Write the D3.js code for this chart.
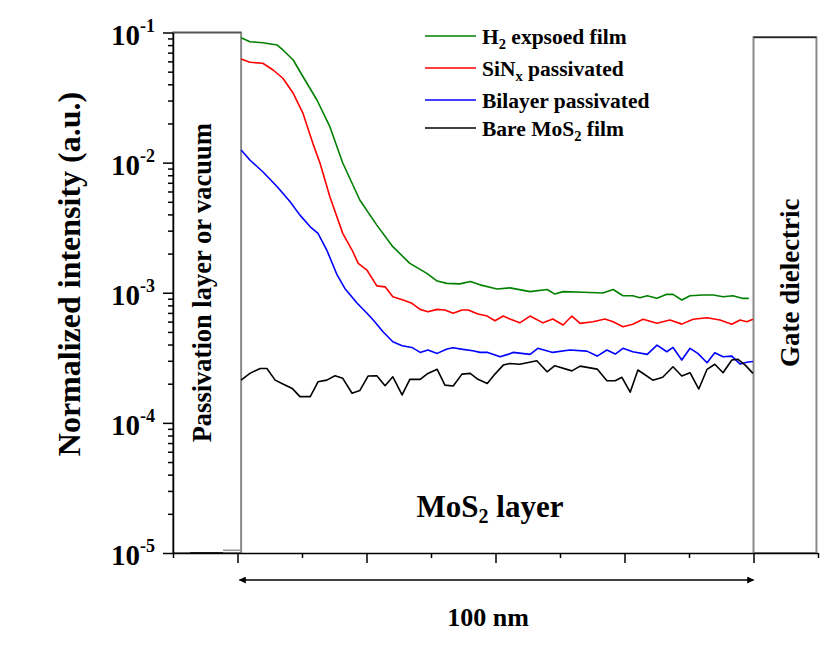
<!DOCTYPE html>
<html>
<head>
<meta charset="utf-8">
<script src="https://cdn.jsdelivr.net/npm/d3@7"></script>
<style>
  body { margin: 0; background: #fff; }
  svg { font-family: "Liberation Serif", "Times New Roman", serif; font-weight: bold; }
  .axis path, .axis line { stroke: #000; stroke-width: 1.5; }
  .series { fill: none; stroke-width: 1.6; stroke-linejoin: round; }
</style>
</head>
<body>
<div id="vis"></div>
<script>
// SIMS-like depth profile: normalized intensity vs depth (nm)

// depth (nm), normalized intensity
var h2Film = [
  [0.7,0.0912],[2.4,0.0850],[4.9,0.0835],[7.7,0.0801],[8.8,0.0734],[10.8,0.0615],[12.7,0.0457],
  [15.4,0.0303],[17.9,0.0189],[20.4,0.00993],[23.7,0.00516],[27.0,0.00331],[30.1,0.00226],
  [33.4,0.00168],[36.7,0.00141],[38.7,0.00123],[40.6,0.00118],[43.1,0.00117],[45.1,0.00122],
  [47.0,0.00115],[50.3,0.00107],[52.8,0.00109],[56.7,0.00102],[60.0,0.00106],[61.5,0.000977],
  [63.1,0.00102],[67.0,0.00101],[70.8,0.000995],[72.8,0.00106],[74.7,0.000948],[76.6,0.000948],
  [78.0,0.000916],[79.4,0.000948],[81.3,0.000906],[83.2,0.000972],[84.4,0.000972],[86.1,0.000879],
  [87.7,0.000948],[90.2,0.000960],[92.2,0.000960],[94.1,0.000931],[96.0,0.000948],[97.8,0.000906],
  [99.1,0.000906]
];
var sinxFilm = [
  [0.7,0.0626],[2.4,0.0590],[4.9,0.0580],[6.9,0.0515],[8.8,0.0445],[10.8,0.0341],[12.7,0.0239],
  [14.6,0.01406],[16.0,0.00988],[17.9,0.00547],[20.4,0.00286],[22.2,0.00213],[23.4,0.00168],
  [25.1,0.00149],[27.0,0.00113],[28.6,0.00111],[30.1,0.000931],[32.1,0.000879],[33.8,0.000830],
  [35.4,0.000745],[36.9,0.000714],[38.7,0.000745],[40.2,0.000736],[41.8,0.000695],[43.5,0.000736],
  [44.7,0.000736],[46.6,0.000686],[48.4,0.000662],[49.9,0.000609],[51.5,0.000662],[52.8,0.000628],
  [54.7,0.000587],[56.7,0.000662],[59.2,0.000587],[61.1,0.000628],[63.1,0.000565],[64.8,0.000662],
  [66.4,0.000582],[68.9,0.000598],[71.2,0.000628],[72.8,0.000598],[74.7,0.000548],[76.6,0.000572],
  [78.6,0.000625],[81.3,0.000582],[83.8,0.000617],[86.1,0.000574],[88.3,0.000625],[91.0,0.000643],
  [93.5,0.000617],[95.8,0.000572],[97.4,0.000617],[98.7,0.000598],[99.9,0.000625]
];
var bilayerFilm = [
  [0.7,0.0125],[2.4,0.01047],[4.9,0.00851],[7.7,0.00653],[10.2,0.00500],[12.1,0.00395],[14.1,0.00321],
  [15.6,0.00286],[17.3,0.00213],[19.3,0.00137],[20.8,0.00108],[23.2,0.000830],[25.1,0.000695],
  [26.6,0.000598],[28.2,0.000501],[30.1,0.000420],[31.9,0.000392],[33.8,0.000380],[35.4,0.000348],
  [36.9,0.000363],[38.7,0.000342],[40.6,0.000369],[41.8,0.000378],[43.7,0.000367],[45.6,0.000358],
  [47.0,0.000348],[48.5,0.000348],[50.9,0.000322],[52.4,0.000336],[53.4,0.000348],[56.7,0.000336],
  [58.2,0.000374],[61.1,0.000348],[64.4,0.000363],[67.7,0.000356],[69.7,0.000326],[71.6,0.000363],
  [73.2,0.000338],[74.7,0.000374],[76.6,0.000352],[79.4,0.000336],[81.3,0.000396],[83.2,0.000352],
  [84.4,0.000380],[86.1,0.000304],[87.7,0.000374],[89.2,0.000342],[91.0,0.000290],[92.5,0.000346],
  [94.1,0.000322],[95.8,0.000326],[97.4,0.000283],[98.7,0.000292],[99.9,0.000296]
];
var bareFilm = [
  [0.7,0.000213],[2.4,0.000240],[4.4,0.000262],[5.7,0.000262],[7.3,0.000213],[8.8,0.000199],
  [10.6,0.000184],[12.1,0.000159],[14.1,0.000159],[15.6,0.000207],[17.3,0.000213],[18.9,0.000230],
  [20.4,0.000220],[22.2,0.000169],[23.7,0.000177],[25.3,0.000229],[27.0,0.000230],[28.6,0.000193],
  [30.1,0.000226],[31.9,0.000164],[33.4,0.000216],[35.4,0.000216],[36.9,0.000240],[38.7,0.000258],
  [40.2,0.000195],[41.8,0.000192],[43.5,0.000237],[45.1,0.000240],[46.6,0.000216],[48.4,0.000201],
  [49.9,0.000237],[51.5,0.000278],[52.8,0.000286],[54.7,0.000282],[58.0,0.000300],[60.0,0.000247],
  [61.5,0.000275],[64.8,0.000251],[66.4,0.000273],[69.7,0.000259],[71.6,0.000211],[73.2,0.000211],
  [74.5,0.000224],[76.1,0.000172],[77.6,0.000255],[80.5,0.000213],[82.4,0.000224],[84.4,0.000270],
  [86.1,0.000229],[87.7,0.000243],[89.4,0.000182],[91.0,0.000258],[92.5,0.000282],[94.1,0.000243],
  [95.8,0.000304],[97.0,0.000308],[98.4,0.000278],[99.9,0.000240]
];
// bits of the profile sitting on the 1e-5 floor inside the left box
var floorBlack = [[-9.2,1e-5],[-2.8,1e-5]];
var floorGray  = [[-2.8,1.05e-5],[0.7,1.05e-5]];

var seriesNames  = ['h2', 'sinx', 'bilayer', 'bare'];
var seriesColors = ['#008000', '#ff0000', '#0000ff', '#000000'];
// legend labels: [text, isSubscript]
var seriesLabels = [
  [['H', 0], ['2', 1], [' expsoed film', 0]],
  [['SiN', 0], ['x', 1], [' passivated', 0]],
  [['Bilayer passivated', 0]],
  [['Bare MoS', 0], ['2', 1], [' film', 0]]
];

// y ticks
var decades = [1e-1, 1e-2, 1e-3, 1e-4, 1e-5];
var decadeExp = ['-1', '-2', '-3', '-4', '-5'];
// x ticks (nm)
var xMajor = [0, 25, 50, 75, 100];
var xMinor = [-12.5, 12.5, 37.5, 62.5, 87.5, 112.5];

// boxed regions either side of the film (nm, top value)
var regions = [
  { x0: -12.5, x1: 0.7,   top: 0.1,    label: 'Passivation layer or vacuum' },
  { x0: 100,   x1: 112.2, top: 0.0918, label: 'Gate dielectric' }
];

var margin = { top: 32.5, left: 173 };
var width = 645, height = 520.5;

var svg = d3.select('#vis').append('svg')
  .attr('width', 827).attr('height', 671);

var vis = svg.append('g')
  .attr('transform', `translate(${margin.left},${margin.top})`);

var xScale = d3.scaleLinear().domain([-12.5, 112.5]).range([0, width]);
var yScale = d3.scaleLog().domain([1e-5, 1e-1]).range([height, 0]);

// boxes
regions.forEach(function(r, i) {
  var x0 = xScale(r.x0), x1 = xScale(r.x1), y0 = yScale(r.top);
  vis.append('rect')
    .attr('x', x0).attr('y', y0)
    .attr('width', x1 - x0).attr('height', height - y0)
    .attr('fill', '#fff')
    .attr('stroke', '#8a8a8a').attr('stroke-width', 2);
  vis.append('line')
    .attr('x1', x0).attr('x2', x1).attr('y1', y0).attr('y2', y0)
    .attr('stroke', i === 0 ? '#555' : '#222').attr('stroke-width', 1.5);
});

vis.append('text')
  .attr('transform', `translate(${xScale(-12.5) + 38},${yScale(1e-3) - 10}) rotate(-90)`)
  .attr('text-anchor', 'middle').attr('font-size', 26.5)
  .text(regions[0].label);
vis.append('text')
  .attr('transform', `translate(${xScale(100) + 45},${yScale(1e-3) - 10}) rotate(-90)`)
  .attr('text-anchor', 'middle').attr('font-size', 27)
  .text(regions[1].label);

// axes
var minorY = [];
decades.slice(1).forEach(function(d) {
  for (var k = 2; k <= 9; k++) minorY.push(d * k);
});

vis.append('g').attr('class', 'axis')
  .call(d3.axisLeft(yScale).tickValues(minorY).tickSize(5).tickFormat(''))
  .select('.domain').remove();
vis.append('g').attr('class', 'axis')
  .call(d3.axisLeft(yScale).tickValues(decades).tickSize(10).tickSizeOuter(0).tickFormat(''));

vis.append('g').attr('class', 'axis')
  .attr('transform', `translate(0,${height})`)
  .call(d3.axisBottom(xScale).tickValues(xMinor).tickSize(5).tickFormat(''))
  .select('.domain').remove();
vis.append('g').attr('class', 'axis')
  .attr('transform', `translate(0,${height})`)
  .call(d3.axisBottom(xScale).tickValues(xMajor).tickSize(10).tickSizeOuter(0).tickFormat(''));

// y tick labels 10^n
decades.forEach(function(d, i) {
  var t = vis.append('text')
    .attr('x', -18).attr('y', yScale(d) + 12)
    .attr('text-anchor', 'end').attr('font-size', 29);
  t.append('tspan').text('10');
  t.append('tspan').attr('font-size', 18).attr('dy', -13).text(decadeExp[i]);
});

vis.append('text')
  .attr('transform', `translate(${80 - margin.left},${274 - margin.top}) rotate(-90)`)
  .attr('text-anchor', 'middle').attr('font-size', 32)
  .text('Normalized intensity (a.u.)');

// curves
var line = d3.line().x(d => xScale(d[0])).y(d => yScale(d[1]));
var seriesData = [h2Film, sinxFilm, bilayerFilm, bareFilm];

vis.append('path').attr('class', 'series').attr('d', line(floorBlack))
  .attr('stroke', '#000').attr('stroke-width', 2);
vis.append('path').attr('class', 'series').attr('d', line(floorGray))
  .attr('stroke', '#999').attr('stroke-width', 2);

seriesData.forEach(function(s, i) {
  vis.append('path')
    .attr('class', 'series ' + seriesNames[i])
    .attr('d', line(s))
    .attr('stroke', seriesColors[i]);
});

// legend
var legendY = [3.5, 35.5, 67.5, 95.5];
var legend = vis.append('g').attr('transform', `translate(${425 - margin.left},0)`);
seriesLabels.forEach(function(parts, i) {
  legend.append('line')
    .attr('x1', 0).attr('x2', 51).attr('y1', legendY[i]).attr('y2', legendY[i])
    .attr('stroke', seriesColors[i]).attr('stroke-width', 1.6);
  var t = legend.append('text')
    .attr('x', 57).attr('y', legendY[i] + 7.5).attr('font-size', 21.5);
  var shifted = false;
  parts.forEach(function(p) {
    var ts = t.append('tspan').text(p[0]);
    if (p[1]) { ts.attr('font-size', 14.5).attr('dy', 5); shifted = true; }
    else if (shifted) { ts.attr('dy', -5); shifted = false; }
  });
});

// MoS2 layer label
var mos = vis.append('text')
  .attr('x', 490 - margin.left).attr('y', 517 - margin.top)
  .attr('text-anchor', 'middle').attr('font-size', 31);
mos.append('tspan').text('MoS');
mos.append('tspan').attr('font-size', 20).attr('dy', 6).text('2');
mos.append('tspan').attr('dy', -6).text(' layer');

// 100 nm arrow
var defs = svg.append('defs');
defs.append('marker').attr('id', 'ahead')
  .attr('viewBox', '0 0 10 10').attr('refX', 9).attr('refY', 5)
  .attr('markerWidth', 13).attr('markerHeight', 7).attr('markerUnits', 'userSpaceOnUse')
  .attr('orient', 'auto-start-reverse')
  .append('path').attr('d', 'M0,0 L10,5 L0,10 Z').attr('fill', '#000');

var arrowY = 580 - margin.top;
vis.append('line')
  .attr('x1', xScale(0) + 2).attr('x2', xScale(100))
  .attr('y1', arrowY).attr('y2', arrowY)
  .attr('stroke', '#000').attr('stroke-width', 1.6)
  .attr('marker-start', 'url(#ahead)').attr('marker-end', 'url(#ahead)');

vis.append('text')
  .attr('x', 488 - margin.left).attr('y', 625.5 - margin.top)
  .attr('text-anchor', 'middle').attr('font-size', 26)
  .text('100 nm');
</script>
</body>
</html>
